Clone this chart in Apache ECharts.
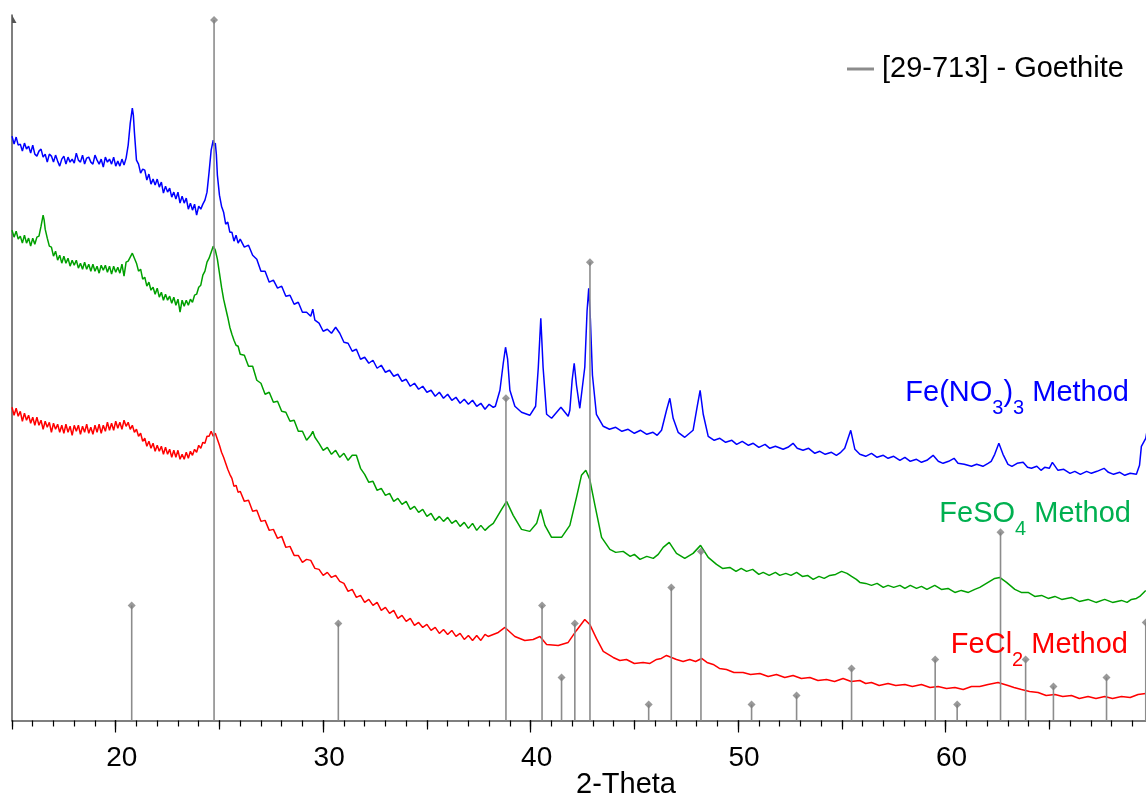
<!DOCTYPE html>
<html><head><meta charset="utf-8">
<script src="https://cdn.jsdelivr.net/npm/echarts@6/dist/echarts.min.js"></script>
<style>html,body{margin:0;padding:0;background:#fff}#c{width:1146px;height:796px}</style>
</head><body><div id="c"></div>
<script>
// 2-Theta (deg) vs intensity (arbitrary units)
const feNO3 = [[15.0,584],[15.1,576],[15.2,583],[15.3,575],[15.4,576],[15.5,569],[15.6,577],[15.7,571],[15.8,574],[15.9,567],[16.0,575],[16.1,566],[16.2,564],[16.3,569],[16.4,571],[16.5,563],[16.6,566],[16.7,558],[16.8,566],[16.9,564],[17.0,558],[17.1,565],[17.2,559],[17.3,554],[17.4,561],[17.5,564],[17.6,556],[17.7,563],[17.8,558],[17.9,561],[18.0,557],[18.1,567],[18.2,560],[18.3,558],[18.4,565],[18.5,556],[18.6,562],[18.7,563],[18.8,558],[18.9,556],[19.0,565],[19.1,560],[19.2,556],[19.3,561],[19.4,553],[19.5,563],[19.6,558],[19.7,561],[19.8,556],[19.9,563],[20.0,554],[20.1,559],[20.2,554],[20.3,561],[20.4,555],[20.5,562],[20.6,575],[20.7,597],[20.8,612],[20.85,605],[20.9,588],[21.0,560],[21.1,556],[21.2,547],[21.3,551],[21.4,550],[21.5,540],[21.6,546],[21.7,536],[21.8,541],[21.9,535],[22.0,541],[22.1,533],[22.2,538],[22.3,527],[22.4,534],[22.5,528],[22.6,532],[22.7,523],[22.8,528],[22.9,521],[23.0,528],[23.1,517],[23.2,524],[23.3,517],[23.4,522],[23.5,511],[23.6,517],[23.7,510],[23.8,516],[23.9,505],[24.0,514],[24.1,511],[24.2,516],[24.3,520],[24.4,528],[24.5,548],[24.6,570],[24.7,580],[24.75,574],[24.8,577],[24.85,566],[24.9,545],[25.0,525],[25.1,514],[25.2,508],[25.3,496],[25.4,498],[25.5,488],[25.6,488],[25.7,479],[25.8,485],[25.9,477],[26.0,481],[26.2,473],[26.4,475],[26.6,465],[26.8,461],[27.0,449],[27.2,449],[27.4,438],[27.6,440],[27.8,432],[28.0,434],[28.2,424],[28.4,425],[28.6,416],[28.8,418],[29.0,408],[29.2,408],[29.4,404],[29.5,411],[29.6,400],[29.8,397],[30.0,389],[30.2,391],[30.4,387],[30.6,393],[30.8,387],[31.0,378],[31.2,377],[31.4,369],[31.6,371],[31.8,361],[32.0,363],[32.2,357],[32.4,360],[32.6,352],[32.8,355],[33.0,348],[33.2,350],[33.4,344],[33.6,346],[33.8,339],[34.0,341],[34.2,334],[34.4,337],[34.6,331],[34.8,334],[35.0,328],[35.2,330],[35.4,324],[35.6,328],[35.8,322],[36.0,326],[36.2,320],[36.4,323],[36.6,317],[36.8,321],[37.0,316],[37.2,320],[37.4,314],[37.6,317],[37.8,311],[38.0,316],[38.2,313],[38.3,314],[38.52,330],[38.68,357],[38.79,373],[38.89,361],[39.00,330],[39.24,314],[39.56,308],[39.96,305],[40.24,314],[40.37,353],[40.49,402],[40.60,353],[40.77,306],[41.01,302],[41.46,313],[41.81,304],[41.89,310],[42.00,340],[42.10,357],[42.21,335],[42.37,312],[42.61,353],[42.72,409],[42.80,432],[42.88,401],[42.98,345],[43.17,306],[43.5,294],[43.8,291],[44.1,293],[44.4,289],[44.7,291],[45.0,287],[45.3,290],[45.6,286],[45.9,288],[46.1,285],[46.31,290],[46.55,310],[46.71,322],[46.87,302],[47.11,288],[47.43,283],[47.83,290],[48.03,314],[48.17,330],[48.32,306],[48.56,284],[48.85,280],[49.12,282],[49.4,278],[49.7,280],[49.93,276],[50.2,279],[50.5,275],[50.73,277],[51.0,273],[51.3,276],[51.53,272],[51.8,274],[52.17,271],[52.4,273],[52.65,277],[52.85,272],[53.13,270],[53.4,272],[53.7,267],[53.94,269],[54.2,266],[54.5,268],[54.74,265],[54.95,268],[55.14,272],[55.43,290],[55.63,271],[55.87,266],[56.15,264],[56.43,267],[56.7,263],[57.0,265],[57.23,262],[57.5,264],[57.8,260],[58.04,263],[58.3,259],[58.6,261],[58.84,258],[59.1,260],[59.40,265],[59.65,259],[59.88,257],[60.15,259],[60.41,262],[60.60,257],[60.9,256],[61.25,254],[61.5,256],[61.8,254],[62.05,257],[62.2,259],[62.37,266],[62.57,277],[62.77,266],[63.01,256],[63.2,254],[63.45,257],[63.74,258],[63.95,253],[64.14,252],[64.4,254],[64.6,250],[64.78,253],[65.0,252],[65.15,258],[65.42,250],[65.7,251],[66.0,247],[66.23,249],[66.5,246],[66.8,249],[67.03,247],[67.3,249],[67.64,252],[67.85,248],[68.1,246],[68.4,248],[68.64,245],[68.9,247],[69.20,246],[69.35,255],[69.44,274],[69.65,282],[69.80,300]];
const feSO4 = [[15.0,490],[15.1,483],[15.2,489],[15.3,481],[15.4,484],[15.5,477],[15.6,485],[15.7,477],[15.8,482],[15.9,474],[16.0,482],[16.1,476],[16.2,483],[16.3,484],[16.4,494],[16.5,505],[16.55,500],[16.6,491],[16.7,482],[16.8,474],[16.9,473],[17.0,464],[17.1,469],[17.2,460],[17.3,465],[17.4,457],[17.5,464],[17.6,457],[17.7,462],[17.8,454],[17.9,460],[18.0,455],[18.1,460],[18.2,452],[18.3,457],[18.4,451],[18.5,458],[18.6,451],[18.7,456],[18.8,449],[18.9,456],[19.0,449],[19.1,454],[19.2,447],[19.3,455],[19.4,450],[19.5,455],[19.6,448],[19.7,454],[19.8,446],[19.9,454],[20.0,448],[20.1,453],[20.2,447],[20.3,456],[20.4,444],[20.5,458],[20.6,459],[20.7,463],[20.8,467],[20.9,462],[21.0,457],[21.1,449],[21.2,451],[21.3,441],[21.4,443],[21.5,434],[21.6,438],[21.7,430],[21.8,433],[21.9,426],[22.0,432],[22.1,423],[22.2,428],[22.3,420],[22.4,426],[22.5,420],[22.6,424],[22.7,417],[22.8,423],[22.9,415],[23.0,421],[23.1,408],[23.2,420],[23.3,414],[23.4,420],[23.5,415],[23.6,421],[23.7,418],[23.8,425],[23.9,426],[24.0,433],[24.1,435],[24.2,445],[24.3,449],[24.4,458],[24.5,462],[24.6,468],[24.7,474],[24.8,470],[24.9,461],[25.0,447],[25.1,433],[25.2,421],[25.3,412],[25.4,403],[25.5,393],[25.6,386],[25.7,380],[25.8,375],[25.9,374],[26.0,366],[26.2,365],[26.4,354],[26.6,354],[26.8,340],[27.0,337],[27.2,326],[27.4,328],[27.6,318],[27.8,319],[28.0,309],[28.2,308],[28.4,299],[28.6,300],[28.8,289],[29.0,289],[29.2,280],[29.4,285],[29.5,289],[29.6,283],[29.8,277],[30.0,270],[30.2,273],[30.4,266],[30.6,270],[30.8,263],[31.0,267],[31.2,260],[31.4,265],[31.6,265],[31.8,252],[32.0,246],[32.2,238],[32.4,239],[32.6,230],[32.8,232],[33.0,225],[33.2,227],[33.4,219],[33.6,222],[33.8,216],[34.0,219],[34.2,211],[34.4,214],[34.6,208],[34.8,211],[35.0,204],[35.2,207],[35.4,200],[35.6,204],[35.8,199],[36.0,203],[36.2,197],[36.4,200],[36.6,194],[36.8,198],[37.0,192],[37.2,197],[37.4,190],[37.6,195],[37.8,190],[38.0,194],[38.2,197],[38.60,211],[38.84,219],[39.16,205],[39.56,191],[39.96,189],[40.29,197],[40.48,211],[40.69,195],[41.01,183],[41.49,183],[41.89,195],[42.21,223],[42.45,245],[42.66,250],[42.85,241],[43.10,215],[43.42,183],[43.82,171],[44.1,168],[44.46,169],[44.8,164],[45.0,166],[45.27,161],[45.6,164],[45.91,162],[46.15,166],[46.39,173],[46.68,178],[47.03,167],[47.43,162],[47.83,167],[48.19,175],[48.56,163],[48.96,156],[49.25,152],[49.60,153],[49.9,149],[50.15,152],[50.41,149],[50.7,151],[51.0,146],[51.21,148],[51.5,145],[51.8,148],[52.01,145],[52.3,147],[52.55,145],[52.82,148],[53.1,144],[53.35,145],[53.62,141],[53.9,144],[54.15,142],[54.42,145],[54.7,146],[54.99,149],[55.25,147],[55.47,144],[55.7,141],[55.87,138],[56.15,137],[56.43,135],[56.7,137],[57.0,133],[57.23,135],[57.5,133],[57.8,135],[58.04,132],[58.3,135],[58.6,132],[58.84,134],[59.1,131],[59.48,135],[59.8,131],[60.12,132],[60.45,128],[60.76,130],[61.1,128],[61.41,131],[61.65,133],[61.89,136],[62.37,142],[62.61,143],[62.94,138],[63.34,131],[63.65,128],[63.98,128],[64.3,124],[64.63,125],[64.95,122],[65.27,124],[65.6,121],[66.07,123],[66.45,119],[66.87,121],[67.25,118],[67.67,121],[68.05,118],[68.48,120],[68.75,118],[68.96,121],[69.2,122],[69.36,124],[69.65,130]];
const feCl2 = [[15.0,313],[15.1,305],[15.2,312],[15.3,304],[15.4,309],[15.5,299],[15.6,307],[15.7,300],[15.8,305],[15.9,297],[16.0,303],[16.1,295],[16.2,303],[16.3,295],[16.4,300],[16.5,291],[16.6,299],[16.7,293],[16.8,298],[16.9,288],[17.0,297],[17.1,291],[17.2,296],[17.3,288],[17.4,295],[17.5,287],[17.6,296],[17.7,288],[17.8,294],[17.9,285],[18.0,295],[18.1,289],[18.2,295],[18.3,286],[18.4,294],[18.5,288],[18.6,296],[18.7,287],[18.8,293],[18.9,286],[19.0,295],[19.1,288],[19.2,296],[19.3,287],[19.4,295],[19.5,289],[19.6,298],[19.7,290],[19.8,297],[19.9,290],[20.0,299],[20.1,292],[20.2,298],[20.3,291],[20.4,300],[20.5,294],[20.6,298],[20.7,291],[20.8,295],[20.9,288],[21.0,291],[21.1,284],[21.2,287],[21.3,279],[21.4,282],[21.5,274],[21.6,279],[21.7,272],[21.8,277],[21.9,269],[22.0,275],[22.1,269],[22.2,274],[22.3,266],[22.4,273],[22.5,266],[22.6,271],[22.7,263],[22.8,270],[22.9,263],[23.0,270],[23.1,261],[23.2,266],[23.3,261],[23.4,268],[23.5,262],[23.6,269],[23.7,265],[23.8,271],[23.9,268],[24.0,275],[24.1,272],[24.2,278],[24.3,277],[24.4,284],[24.5,284],[24.6,289],[24.7,284],[24.8,287],[24.9,281],[25.0,275],[25.1,268],[25.2,263],[25.3,257],[25.4,251],[25.5,246],[25.6,242],[25.7,234],[25.8,235],[25.9,228],[26.0,229],[26.2,219],[26.4,220],[26.6,209],[26.8,210],[27.0,199],[27.2,200],[27.4,190],[27.6,191],[27.8,182],[28.0,184],[28.2,173],[28.4,174],[28.6,165],[28.8,165],[29.0,158],[29.2,161],[29.4,160],[29.6,152],[29.8,151],[30.0,145],[30.2,148],[30.4,143],[30.6,145],[30.8,139],[31.0,137],[31.2,129],[31.4,131],[31.6,123],[31.8,125],[32.0,118],[32.2,121],[32.4,115],[32.6,118],[32.8,110],[33.0,113],[33.2,107],[33.4,110],[33.6,102],[33.8,105],[34.0,99],[34.2,102],[34.4,95],[34.6,98],[34.8,93],[35.0,96],[35.2,90],[35.4,93],[35.6,87],[35.8,91],[36.0,86],[36.2,90],[36.4,84],[36.6,87],[36.8,81],[37.0,85],[37.2,80],[37.4,85],[37.6,80],[37.8,86],[37.95,84],[38.44,88],[38.76,93],[39.24,84],[39.72,80],[40.12,81],[40.45,84],[40.77,76],[41.33,75],[41.81,78],[42.21,90],[42.61,101],[42.85,96],[43.17,82],[43.50,69],[43.98,63],[44.3,60],[44.62,61],[45.0,57],[45.42,58],[45.75,57],[46.07,61],[46.3,62],[46.55,65],[47.03,61],[47.35,59],[47.67,61],[47.95,59],[48.24,62],[48.5,58],[48.80,56],[49.1,52],[49.44,51],[49.8,48],[50.24,48],[50.6,46],[51.05,47],[51.45,44],[51.85,46],[52.25,43],[52.65,45],[53.05,42],[53.46,43],[53.85,40],[54.26,41],[54.65,39],[55.06,42],[55.45,39],[55.87,40],[56.15,37],[56.43,38],[56.8,35],[57.23,37],[57.6,35],[58.04,36],[58.4,34],[58.84,36],[59.25,33],[59.64,34],[60.05,32],[60.45,33],[60.85,31],[61.25,34],[61.65,34],[62.05,36],[62.53,38],[63.01,35],[63.3,33],[63.66,31],[64.05,29],[64.46,28],[64.85,25],[65.27,26],[65.65,24],[66.07,25],[66.45,22],[66.87,24],[67.25,22],[67.67,24],[68.05,22],[68.48,24],[68.9,23],[69.28,26],[69.65,27]];
// Reference pattern [29-713] Goethite: positions and relative heights
const goethitePos = [20.77,24.74,30.73,38.81,40.55,41.49,42.13,42.86,45.69,46.78,48.21,50.65,52.82,55.47,59.50,60.56,62.65,63.86,65.20,67.76,69.65];
const goethiteInt = [115,700,97,322,115,43,97,458,16,133,169,16,25,52,61,16,188,61,34,43,98];
const xMajorTicks = [20,30,40,50,60];
const refName = '[29-713] - Goethite';

const F = '"Liberation Sans", Arial, Helvetica, sans-serif';
const sticks = goethitePos.map((p, i) => [p, goethiteInt[i]]);

const chart = echarts.init(document.getElementById('c'), null, {renderer: 'canvas'});
const baseX = {type: 'value', min: 15, max: 70, position: 'bottom', offset: 0,
  splitLine: {show: false}, axisLabel: {show: false}};
chart.setOption({
  animation: false,
  backgroundColor: '#fff',
  grid: {left: 12, right: -7, top: 15, bottom: 75.5, containLabel: false, outerBoundsMode: 'none'},
  xAxis: [
    Object.assign({}, baseX, {interval: 1,
      axisLine: {show: true, onZero: false, lineStyle: {color: '#555', width: 1.5}},
      axisTick: {show: true, length: 6, lineStyle: {color: '#000', width: 1.2}}}),
    Object.assign({}, baseX, {interval: 5,
      axisLine: {show: false, onZero: false},
      axisTick: {show: true, length: 9, lineStyle: {color: '#000', width: 1.2}}}),
    Object.assign({}, baseX, {
      axisLine: {show: false, onZero: false},
      axisTick: {show: true, length: 12, customValues: xMajorTicks, lineStyle: {color: '#000', width: 1.2}},
      axisLabel: {show: true, customValues: xMajorTicks, fontSize: 28, fontFamily: F, color: '#000',
        margin: 24, lineHeight: 28, padding: [0, 0, 0, 12]}})
  ],
  yAxis: {type: 'value', min: 0, max: 705,
    axisLine: {show: true, onZero: false, lineStyle: {color: '#555', width: 1.5},
      symbol: ['none', 'path://M0 0L0 8L4.5 8Z M-4.5 8L-4.49 8L-4.5 7.99Z'],
      symbolSize: [9, 8], symbolOffset: [0, -4]},
    axisTick: {show: false}, axisLabel: {show: false}, splitLine: {show: false}},
  legend: {data: [refName], left: 847, top: 54, icon: 'rect', itemWidth: 27, itemHeight: 3,
    selectedMode: false, padding: 0,
    textStyle: {fontSize: 29, fontFamily: F, color: '#000', lineHeight: 30, padding: [0, 0, 0, 3]}},
  series: [
    {type: 'line', name: 'Fe(NO3)3 Method', data: feNO3, showSymbol: false, symbol: 'none',
      lineStyle: {color: '#0000ff', width: 1.5}, itemStyle: {color: '#0000ff'}, z: 2, silent: true},
    {type: 'line', name: 'FeSO4 Method', data: feSO4, showSymbol: false, symbol: 'none',
      lineStyle: {color: '#00a000', width: 1.5}, itemStyle: {color: '#00a000'}, z: 2, silent: true},
    {type: 'line', name: 'FeCl2 Method', data: feCl2, showSymbol: false, symbol: 'none',
      lineStyle: {color: '#ff0000', width: 1.5}, itemStyle: {color: '#ff0000'}, z: 2, silent: true},
    {type: 'bar', name: refName, data: sticks, barWidth: 1.6, itemStyle: {color: '#8c8c8c'}, z: 3, silent: true},
    {type: 'scatter', name: 'goethite-top', data: sticks, symbol: 'diamond', symbolSize: 8,
      itemStyle: {color: '#808080'}, z: 4, silent: true}
  ],
  graphic: [
    {type: 'text', x: 1129, y: 368, z: 10, style: {text: '{m|Fe(NO}{s|3}{m|)}{s|3}{m| Method}', align: 'right', verticalAlign: 'top',
      rich: {m: {fontSize: 29, fontFamily: F, fill: '#0000ff', color: '#0000ff', lineHeight: 50},
             s: {fontSize: 20, fontFamily: F, fill: '#0000ff', color: '#0000ff', lineHeight: 20, verticalAlign: 'bottom'}}}},
    {type: 'text', x: 1131, y: 489, z: 10, style: {text: '{m|FeSO}{s|4}{m| Method}', align: 'right', verticalAlign: 'top',
      rich: {m: {fontSize: 29, fontFamily: F, fill: '#00b050', color: '#00b050', lineHeight: 50},
             s: {fontSize: 20, fontFamily: F, fill: '#00b050', color: '#00b050', lineHeight: 20, verticalAlign: 'bottom'}}}},
    {type: 'text', x: 1128, y: 620, z: 10, style: {text: '{m|FeCl}{s|2}{m| Method}', align: 'right', verticalAlign: 'top',
      rich: {m: {fontSize: 29, fontFamily: F, fill: '#ff0000', color: '#ff0000', lineHeight: 50},
             s: {fontSize: 20, fontFamily: F, fill: '#ff0000', color: '#ff0000', lineHeight: 20, verticalAlign: 'bottom'}}}},
    {type: 'text', x: 626, y: 785, z: 10, style: {text: '2-Theta', fontSize: 29, fontFamily: F, fill: '#000',
      align: 'center', verticalAlign: 'middle'}}
  ]
});
</script>
</body></html>
